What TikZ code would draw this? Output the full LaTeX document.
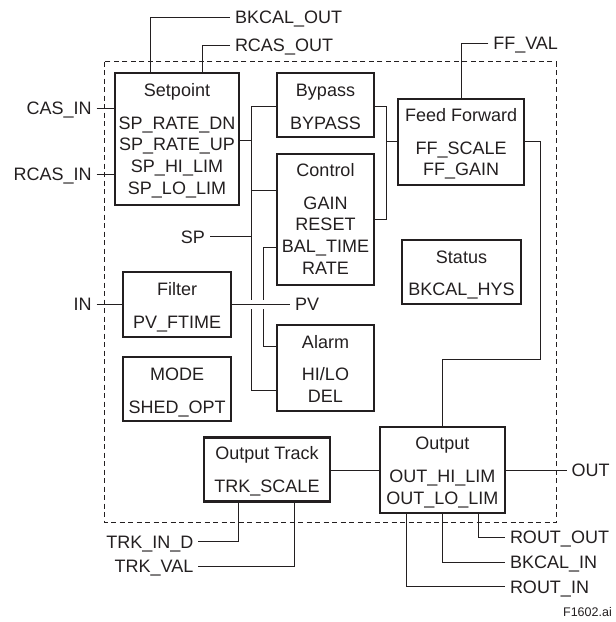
\documentclass[tikz,border=0pt]{standalone}
\usepackage{fontspec}
\setmainfont{Liberation Sans}
\pgfdeclarelayer{bg}
\pgfsetlayers{bg,main}
\definecolor{ink}{RGB}{35,31,32}
\newcommand{\figfont}{\fontsize{18}{21.7}\selectfont}
\newcommand{\tstrut}{\rule{0pt}{14pt}}
\begin{document}
\begin{tikzpicture}[x=1pt,y=-1pt,
  box/.style={draw=ink, line width=2.2pt, inner sep=0pt, outer sep=0pt},
  btxt/.style={anchor=north, align=center, inner sep=0pt, font=\figfont, text=ink},
  lbl/.style={font=\figfont, text=ink, text height=12.9pt, text depth=0pt, inner ysep=0pt, inner xsep=5pt, outer sep=0pt},
  conn/.style={draw=ink, line width=1pt},
  frame/.style={draw=ink, line width=1pt, dash pattern=on 5pt off 3.5pt},
  gapline/.style={preaction={draw=white, line width=9pt}}]
\useasboundingbox (0,0) rectangle (616,622);

% ---------- boxes ----------
\node[box, minimum width=124pt, minimum height=131.7pt] (sp) at (177,139.15) {};
\node[btxt] (spT) at (177,82.45) {\tstrut Setpoint\\[10.8pt]SP\_RATE\_DN\\SP\_RATE\_UP\\SP\_HI\_LIM\\SP\_LO\_LIM};

\node[box, minimum width=97pt, minimum height=63.4pt] (byp) at (325.5,105) {};
\node[btxt] (bypT) at (325.5,82.45) {\tstrut Bypass\\[10.8pt]BYPASS};

\node[box, minimum width=97pt, minimum height=130.4pt] (ctl) at (325.5,219.5) {};
\node[btxt] (ctlT) at (325.5,162.45) {\tstrut Control\\[10.8pt]GAIN\\RESET\\BAL\_TIME\\RATE};

\node[box, minimum width=108.3pt, minimum height=64.7pt] (flt) at (177.15,304.35) {};
\node[btxt] (fltT) at (177.15,281.75) {\tstrut Filter\\[10.8pt]PV\_FTIME};

\node[box, minimum width=108.3pt, minimum height=64.3pt] (mode) at (177.15,389.15) {};
\node[btxt] (modeT) at (177.15,366.45) {\tstrut MODE\\[10.8pt]SHED\_OPT};

\node[box, minimum width=97pt, minimum height=86.3pt] (alm) at (325.5,368.15) {};
\node[btxt] (almT) at (325.5,334.15) {\tstrut Alarm\\[10.8pt]HI/LO\\DEL};

\node[box, minimum width=125.4pt, minimum height=64pt] (otr) at (267,469.5) {};
\node[btxt] (otrT) at (267,445.75) {\tstrut Output Track\\[10.8pt]TRK\_SCALE};

\node[box, minimum width=124.7pt, minimum height=86pt] (out) at (442.35,470) {};
\node[btxt] (outT) at (442.35,435.75) {\tstrut Output\\[10.8pt]OUT\_HI\_LIM\\OUT\_LO\_LIM};

\node[box, minimum width=125.7pt, minimum height=86pt] (ff) at (461.15,141.7) {};
\node[btxt] (ffT) at (461.15,107.45) {\tstrut Feed Forward\\[10.8pt]FF\_SCALE\\FF\_GAIN};

\node[box, minimum width=119.6pt, minimum height=64pt] (st) at (461.5,272.3) {};
\node[btxt] (stT) at (461.5,249.15) {\tstrut Status\\[10.8pt]BKCAL\_HYS};

% ---------- outer labels ----------
\node[lbl, anchor=west] (bkcalout) at (230,17) {BKCAL\_OUT};
\node[lbl, anchor=west] (rcasout) at (230,45) {RCAS\_OUT};
\node[lbl, anchor=west] (ffval) at (488.3,43.3) {FF\_VAL};
\node[lbl, anchor=east] (casin) at (96.7,108) {CAS\_IN};
\node[lbl, anchor=east] (rcasin) at (96.7,174) {RCAS\_IN};
\node[lbl, anchor=east] (splbl) at (210,236.7) {SP};
\node[lbl, anchor=east] (inlbl) at (96.7,304.3) {IN};
\node[lbl, anchor=west] (pvlbl) at (290,304.3) {PV};
\node[lbl, anchor=west] (outlbl) at (566.7,470) {OUT};
\node[lbl, anchor=west] (routout) at (505,537.3) {ROUT\_OUT};
\node[lbl, anchor=west] (bkcalin) at (505,562.3) {BKCAL\_IN};
\node[lbl, anchor=west] (routin) at (505,586.7) {ROUT\_IN};
\node[lbl, anchor=east] (trkind) at (198.3,541.7) {TRK\_IN\_D};
\node[lbl, anchor=east] (trkval) at (198.3,566) {TRK\_VAL};
\node[anchor=east, inner sep=0pt, text height=9pt, text depth=0pt, font=\fontsize{12.5}{15}\selectfont, text=ink] (figid) at (612,612) {F1602.ai};

% ---------- junction coordinates ----------
\coordinate (xbk) at (150.7,0);
\coordinate (xrc) at (202.7,0);
\coordinate (j1a) at (251.7,106.7);
\coordinate (j1b) at (251.7,140.7);
\coordinate (j1c) at (251.7,190.7);
\coordinate (j1e) at (251.7,390);
\coordinate (j2a) at (263.3,247.7);
\coordinate (j2b) at (263.3,346);
\coordinate (j3a) at (386,106.7);
\coordinate (j3b) at (386,219);
\coordinate (j3c) at (386,141);
\coordinate (j4a) at (540,141);
\coordinate (j4b) at (540,359.3);
\coordinate (xro) at (478.3,0);
\coordinate (xri) at (406.7,0);
\coordinate (xti) at (238.3,0);
\coordinate (xtv) at (294.3,0);

\begin{pgfonlayer}{bg}
\draw[frame] (104.3,61.7) rectangle (556,522.5);
% setpoint outputs / inputs
\draw[conn] (bkcalout.west) -| (xbk |- sp.north);
\draw[conn] (rcasout.west) -| (xrc |- sp.north);
\draw[conn] (casin.east) -- (sp.west |- casin.east);
\draw[conn] (rcasin.east) -- (sp.west |- rcasin.east);
% bus 1
\draw[conn] (byp.west |- j1a) -| (j1e) -- (alm.west |- j1e);
\draw[conn] (sp.east |- j1b) -- (j1b);
\draw[conn] (ctl.west |- j1c) -- (j1c);
\draw[conn] (splbl.east) -- (j1a |- splbl.east);
% bus 2
\draw[conn] (ctl.west |- j2a) -- (j2a) -- (j2b) -- (alm.west |- j2b);
% filter / PV
\draw[conn] (inlbl.east) -- (flt.west |- inlbl.east);
\draw[conn, gapline] (flt.east |- pvlbl.west) -- (pvlbl.west);
% bypass / control to feed forward
\draw[conn] (byp.east |- j3a) -- (j3a) -- (j3b) -- (ctl.east |- j3b);
\draw[conn] (j3c) -- (ff.west |- j3c);
\draw[conn] (ffval.west) -| (ff.north);
% feed forward to output
\draw[conn] (ff.east |- j4a) -- (j4a) -- (j4b) -| (out.north);
% output track / output
\draw[conn] (otr.east |- out.west) -- (out.west);
\draw[conn] (out.east) -- (outlbl.west);
\draw[conn] (xro |- out.south) |- (routout.west);
\draw[conn] (out.south) |- (bkcalin.west);
\draw[conn] (xri |- out.south) |- (routin.west);
\draw[conn] (xti |- otr.south) |- (trkind.east);
\draw[conn] (xtv |- otr.south) |- (trkval.east);
\end{pgfonlayer}
\end{tikzpicture}
\end{document}
